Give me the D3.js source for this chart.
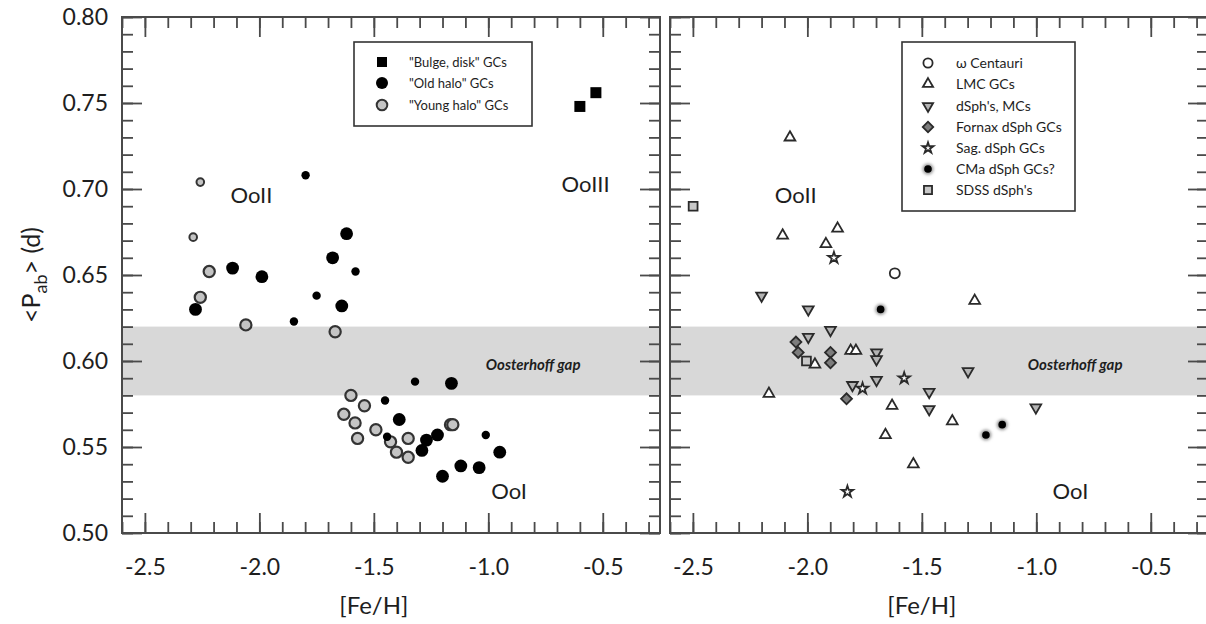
<!DOCTYPE html>
<html><head><meta charset="utf-8">
<script src="https://cdn.jsdelivr.net/npm/d3@7"></script>
<style>
html,body{margin:0;padding:0;background:#fff;}
svg{display:block;font-family:Lato,"Open Sans",sans-serif;}
</style></head>
<body>
<svg id="chart" width="1206" height="624"></svg>
<script>
// ---------- data ----------
const xTicksMajor = [-2.5, -2.0, -1.5, -1.0, -0.5];
const yTicksMajor = [0.50, 0.55, 0.60, 0.65, 0.70, 0.75, 0.80];
const gapRange = [0.58, 0.62];

// left panel: Galactic globular clusters
const bulgeDisk = [[-0.60, 0.748], [-0.53, 0.756]];
const oldHaloLarge = [[-1.619, 0.674], [-1.680, 0.660], [-2.117, 0.654], [-1.989, 0.649], [-2.279, 0.630],
  [-1.640, 0.632], [-1.389, 0.566], [-1.161, 0.587], [-1.290, 0.548], [-1.270, 0.554], [-1.222, 0.557],
  [-0.950, 0.547], [-1.200, 0.533], [-1.120, 0.539], [-1.040, 0.538]];
const oldHaloSmall = [[-1.798, 0.708], [-1.580, 0.652], [-1.750, 0.638], [-1.849, 0.623], [-1.451, 0.577],
  [-1.442, 0.556], [-1.320, 0.588], [-1.011, 0.557]];
const youngHaloLarge = [[-2.219, 0.652], [-2.258, 0.637], [-2.059, 0.621], [-1.669, 0.617], [-1.600, 0.580],
  [-1.541, 0.574], [-1.631, 0.569], [-1.582, 0.564], [-1.491, 0.560], [-1.571, 0.555], [-1.427, 0.553],
  [-1.401, 0.547], [-1.350, 0.555], [-1.350, 0.544], [-1.165, 0.563], [-1.155, 0.563]];
const youngHaloSmall = [[-2.258, 0.704], [-2.289, 0.672]];

// right panel: extragalactic systems
const omegaCen = [[-1.618, 0.651]];
const lmcGCs = [[-2.076, 0.730], [-2.108, 0.673], [-1.868, 0.677], [-1.919, 0.668], [-1.269, 0.635],
  [-1.967, 0.598], [-1.811, 0.606], [-1.788, 0.606], [-2.168, 0.581], [-1.630, 0.574], [-1.659, 0.557],
  [-1.367, 0.565], [-1.537, 0.540]];
const dSphMCs = [[-2.200, 0.638], [-1.996, 0.630], [-1.899, 0.618], [-1.996, 0.614], [-1.698, 0.605],
  [-1.698, 0.601], [-1.803, 0.586], [-1.698, 0.589], [-1.468, 0.582], [-1.468, 0.572], [-1.298, 0.594],
  [-1.002, 0.573]];
const fornaxGCs = [[-2.050, 0.611], [-2.040, 0.605], [-1.899, 0.605], [-1.899, 0.599], [-1.829, 0.578]];
const sagGCs = [[-1.884, 0.660], [-1.759, 0.584], [-1.577, 0.590], [-1.825, 0.524]];
const cmaGCs = [[-1.680, 0.630], [-1.220, 0.557], [-1.149, 0.563]];
const sdssDSph = [[-2.499, 0.690], [-2.004, 0.600]];

const leftLegend = ['"Bulge, disk" GCs', '"Old halo" GCs', '"Young halo" GCs'];
const rightLegend = ["\u03C9 Centauri", "LMC GCs", "dSph's, MCs", "Fornax dSph GCs", "Sag. dSph GCs", "CMa dSph GCs?", "SDSS dSph's"];

// ---------- drawing ----------
const svg = d3.select("#chart");
const defs = svg.append("defs");
const blur = defs.append("filter").attr("id", "glow").attr("x", "-100%").attr("y", "-100%").attr("width", "300%").attr("height", "300%");
blur.append("feGaussianBlur").attr("stdDeviation", 1.6);

const TXT = "#1e1e1e", FRAME = "#4a4a4a";
const yTop = 17, yBot = 533;
const y = d3.scaleLinear().domain([0.50, 0.80]).range([yBot, yTop]);

function panel(x0, x1, showY, labels) {
  const x = d3.scaleLinear().domain([-2.6, -0.25]).range([x0, x1]);
  const g = svg.append("g");
  // gap band
  g.append("rect").attr("x", x0).attr("width", x1 - x0)
    .attr("y", y(gapRange[1])).attr("height", y(gapRange[0]) - y(gapRange[1])).attr("fill", "#d8d8d8");
  const xMinor = d3.range(-2.6, -0.24, 0.1).map(v => +v.toFixed(2));
  const yMinor = d3.range(0.50, 0.8001, 0.01).map(v => +v.toFixed(2));
  const styleAx = a => { a.select(".domain").remove(); a.selectAll("line").attr("stroke", FRAME).attr("stroke-width", 1.8); };
  // minor ticks
  [[d3.axisBottom(x), yBot], [d3.axisTop(x), yTop]].forEach(([ax, pos]) => {
    g.append("g").attr("transform", `translate(0,${pos})`)
      .call(ax.tickValues(xMinor).tickSize(-11).tickFormat("")).call(styleAx);
  });
  [[d3.axisLeft(y), x0], [d3.axisRight(y), x1]].forEach(([ax, pos]) => {
    g.append("g").attr("transform", `translate(${pos},0)`)
      .call(ax.tickValues(yMinor).tickSize(-11).tickFormat("")).call(styleAx);
  });
  // major ticks
  const bx = g.append("g").attr("transform", `translate(0,${yBot})`)
    .call(d3.axisBottom(x).tickValues(xTicksMajor).tickSize(-20).tickPadding(26).tickFormat(d => d.toFixed(1)))
    .call(styleAx);
  bx.selectAll("text").attr("fill", TXT).style("font-size", "23px").style("font-family", "Lato");
  g.append("g").attr("transform", `translate(0,${yTop})`)
    .call(d3.axisTop(x).tickValues(xTicksMajor).tickSize(-20).tickFormat("")).call(styleAx);
  const ly = g.append("g").attr("transform", `translate(${x0},0)`)
    .call(d3.axisLeft(y).tickValues(yTicksMajor).tickSize(-20).tickPadding(14).tickFormat(d => showY ? d.toFixed(2) : ""))
    .call(styleAx);
  ly.selectAll("text").attr("fill", TXT).style("font-size", "23px").style("font-family", "Lato");
  g.append("g").attr("transform", `translate(${x1},0)`)
    .call(d3.axisRight(y).tickValues(yTicksMajor).tickSize(-20).tickFormat("")).call(styleAx);
  // frame
  g.append("rect").attr("x", x0).attr("y", yTop).attr("width", x1 - x0).attr("height", yBot - yTop)
    .attr("fill", "none").attr("stroke", FRAME).attr("stroke-width", 2);
  // x title
  g.append("text").attr("x", x(-1.5)).attr("y", 614).attr("text-anchor", "middle")
    .attr("fill", TXT).style("font-size", "24px").text("[Fe/H]");
  // region labels
  labels.forEach(([vx, vy, t]) => g.append("text").attr("x", x(vx)).attr("y", y(vy)).attr("fill", TXT)
    .style("font-size", "22px").text(t));
  return { g, x };
}
function gapLabel(P, vx) {
  P.g.append("text").attr("x", P.x(vx)).attr("y", y(0.5945)).attr("fill", TXT)
    .style("font-size", "15px").style("font-weight", "bold").style("font-style", "italic")
    .text("Oosterhoff gap");
}

function circles(g, x, data, r, fill, stroke, sw) {
  g.selectAll(null).data(data).enter().append("circle")
    .attr("cx", d => x(d[0])).attr("cy", d => y(d[1])).attr("r", r)
    .attr("fill", fill).attr("stroke", stroke).attr("stroke-width", sw);
}
function symbols(g, x, data, type, size, fill, rot) {
  const p = d3.symbol().type(type).size(size)();
  g.selectAll(null).data(data).enter().append("path").attr("d", p)
    .attr("transform", d => `translate(${x(d[0])},${y(d[1])}) rotate(${rot || 0})`)
    .attr("fill", fill).attr("stroke", "#2a2a2a").attr("stroke-width", 1.8).attr("stroke-linejoin", "miter");
}
function cma(g, cx, cy) {
  g.append("circle").attr("cx", cx).attr("cy", cy).attr("r", 5.5).attr("fill", "#999").attr("filter", "url(#glow)");
  g.append("circle").attr("cx", cx).attr("cy", cy).attr("r", 3.8).attr("fill", "#000");
}

// ----- left panel -----
const L = panel(122, 660, true, [[-2.126, 0.692, "OoII"], [-0.987, 0.520, "OoI"], [-0.68, 0.698, "OoIII"]]);
gapLabel(L, -1.011);
circles(L.g, L.x, youngHaloSmall, 3.8, "#c4c4c4", "#333", 2);
circles(L.g, L.x, youngHaloLarge, 5.6, "#c4c4c4", "#333", 2.2);
circles(L.g, L.x, oldHaloLarge, 6.4, "#000", "none", 0);
circles(L.g, L.x, oldHaloSmall, 4.2, "#000", "none", 0);
L.g.selectAll(null).data(bulgeDisk).enter().append("rect")
  .attr("x", d => L.x(d[0]) - 5.5).attr("y", d => y(d[1]) - 5.5).attr("width", 11).attr("height", 11).attr("fill", "#000");

// left legend
const lg = L.g.append("g");
lg.append("rect").attr("x", 354).attr("y", 42).attr("width", 178).attr("height", 84)
  .attr("fill", "#fff").attr("stroke", "#333").attr("stroke-width", 1.6);
const lRows = [62, 83, 105];
lg.append("rect").attr("x", 377).attr("y", lRows[0] - 5).attr("width", 10).attr("height", 10).attr("fill", "#000");
lg.append("circle").attr("cx", 382).attr("cy", lRows[1]).attr("r", 6).attr("fill", "#000");
lg.append("circle").attr("cx", 382).attr("cy", lRows[2]).attr("r", 5.3).attr("fill", "#c4c4c4").attr("stroke", "#333").attr("stroke-width", 2);
lg.selectAll(null).data(leftLegend).enter().append("text")
  .attr("x", 409).attr("y", (d, i) => lRows[i] + 5).attr("fill", TXT).style("font-size", "13px").text(d => d);

// ----- right panel -----
const R = panel(670, 1208, false, [[-2.142, 0.692, "OoII"], [-0.929, 0.520, "OoI"]]);
gapLabel(R, -1.037);
circles(R.g, R.x, omegaCen, 5, "#fff", "#2a2a2a", 1.8);
symbols(R.g, R.x, lmcGCs, d3.symbolTriangle, 50, "#fff", 0);
symbols(R.g, R.x, dSphMCs, d3.symbolTriangle, 50, "#b4b4b4", 180);
symbols(R.g, R.x, fornaxGCs, d3.symbolSquare, 60, "#7c7c7c", 45);
symbols(R.g, R.x, sagGCs, d3.symbolStar, 40, "#fff", 0);
symbols(R.g, R.x, sdssDSph, d3.symbolSquare, 78, "#c8c8c8", 0);
cmaGCs.forEach(d => cma(R.g, R.x(d[0]), y(d[1])));

// right legend
const rg = R.g.append("g");
rg.append("rect").attr("x", 902).attr("y", 42).attr("width", 173).attr("height", 169)
  .attr("fill", "#fff").attr("stroke", "#333").attr("stroke-width", 1.6);
const rRows = [63, 84, 106, 127, 148, 169, 190];
const sx = 928;
const sym = (type, size, fill, rot, i) => rg.append("path").attr("d", d3.symbol().type(type).size(size)())
  .attr("transform", `translate(${sx},${rRows[i]}) rotate(${rot})`).attr("fill", fill)
  .attr("stroke", "#2a2a2a").attr("stroke-width", 1.8);
rg.append("circle").attr("cx", sx).attr("cy", rRows[0]).attr("r", 4.6).attr("fill", "#fff").attr("stroke", "#2a2a2a").attr("stroke-width", 1.8);
sym(d3.symbolTriangle, 45, "#fff", 0, 1);
sym(d3.symbolTriangle, 45, "#b4b4b4", 180, 2);
sym(d3.symbolSquare, 55, "#7c7c7c", 45, 3);
sym(d3.symbolStar, 36, "#fff", 0, 4);
cma(rg, sx, rRows[5]);
sym(d3.symbolSquare, 65, "#c8c8c8", 0, 6);
rg.selectAll(null).data(rightLegend).enter().append("text")
  .attr("x", 956).attr("y", (d, i) => rRows[i] + 5).attr("fill", TXT).style("font-size", "14px").text(d => d);

// y title
const yt = svg.append("text").attr("transform", "translate(40,275) rotate(-90)").attr("text-anchor", "middle")
  .attr("fill", TXT).style("font-size", "25px");
yt.append("tspan").text("<P");
yt.append("tspan").attr("dy", 7).style("font-size", "18px").text("ab");
yt.append("tspan").attr("dy", -7).text("> (d)");
</script>
</body></html>
